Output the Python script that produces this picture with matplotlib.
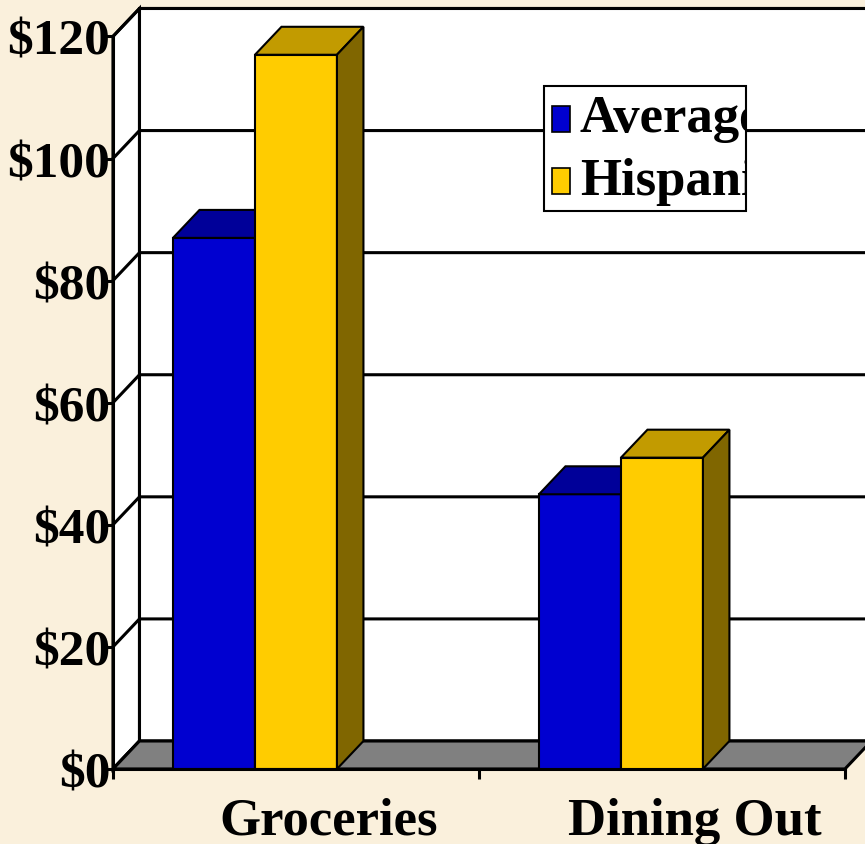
import matplotlib
matplotlib.use("Agg")
import matplotlib.pyplot as plt
from matplotlib.patches import Polygon, Rectangle
from matplotlib.transforms import Bbox, TransformedBbox
from matplotlib.ticker import FuncFormatter

categories = ["Groceries", "Dining Out"]
series = ["Average", "Hispanic"]
average = [87, 45]
hispanic = [117, 51]
values = [average, hispanic]
yticks = [0, 20, 40, 60, 80, 100, 120]

front_colors = ["#0000d0", "#ffcc00"]
top_colors = ["#000099", "#c29b00"]
side_colors = ["#00006b", "#806600"]
bg = "#faf0dc"

plt.rcParams["font.family"] = ["Liberation Serif", "DejaVu Serif"]
plt.rcParams["font.weight"] = "bold"

fig = plt.figure(figsize=(8.65, 8.45), dpi=100, facecolor=bg)
ax = fig.add_axes([0.1306, 0.0888, 0.8462, 0.8669])
ax.set_facecolor("none")
ax.set_xlim(0, 2)
ax.set_ylim(0, 120)

# depth offset of the 3d box, in data units
ddx = 0.0724
ddy = 4.58
ymax = yticks[-1]
far = 2.3
lw = 2.2

# side wall and back wall
ax.add_patch(Polygon([(0, 0), (ddx, ddy), (ddx, ymax + ddy), (0, ymax)],
                     closed=True, fc="white", ec="black", lw=lw, zorder=0.5, clip_on=False))
ax.add_patch(Polygon([(ddx, ddy), (far, ddy), (far, ymax + ddy), (ddx, ymax + ddy)],
                     closed=True, fc="white", ec="black", lw=lw, zorder=0.5, clip_on=False))
for t in yticks:
    ax.plot([0, ddx, far], [t, t + ddy, t + ddy], color="black", lw=lw,
            zorder=0.6, clip_on=False)

# floor
ax.add_patch(Polygon([(0, 0), (2, 0), (2 + ddx, ddy), (ddx, ddy)],
                     closed=True, fc="#808080", ec="black", lw=lw, zorder=0.7, clip_on=False))

# bars
bar_w = 0.224
start = 0.164
for j in range(len(categories)):
    for i in range(len(series)):
        v = values[i][j]
        x0 = j + start + i * bar_w
        z = 2 + j * 2 + i * 0.5
        ax.bar(x0, v, width=bar_w, align="edge", color=front_colors[i],
               edgecolor="black", lw=1.5, zorder=z)
        ax.add_patch(Polygon([(x0, v), (x0 + bar_w, v), (x0 + bar_w + ddx, v + ddy),
                              (x0 + ddx, v + ddy)], closed=True, fc=top_colors[i],
                             ec="black", lw=1.5, zorder=z, clip_on=False))
        ax.add_patch(Polygon([(x0 + bar_w, 0), (x0 + bar_w + ddx, ddy),
                              (x0 + bar_w + ddx, v + ddy), (x0 + bar_w, v)], closed=True,
                             fc=side_colors[i], ec="black", lw=1.5, zorder=z, clip_on=False))

for s in ["top", "right"]:
    ax.spines[s].set_visible(False)
ax.spines["left"].set_linewidth(lw)
ax.spines["bottom"].set_linewidth(lw)

ax.set_yticks(yticks)
ax.yaxis.set_major_formatter(FuncFormatter(lambda v, p: "$%d" % v))
ax.tick_params(axis="y", length=6, width=lw, pad=-4, labelsize=37)

ax.set_xticks([j + 0.59 for j in range(len(categories))])
ax.set_xticklabels(categories)
ax.set_xticks([0, 1, 2], minor=True)
ax.tick_params(axis="x", which="major", length=0, pad=20, labelsize=38)
ax.tick_params(axis="x", which="minor", length=7, width=lw)

# legend, clipped by its box like the original
lx0, ly0, lx1, ly1 = 0.629, 0.749, 0.862, 0.897
fig.add_artist(Rectangle((lx0, ly0), lx1 - lx0, ly1 - ly0, transform=fig.transFigure,
                         fc="white", ec="black", lw=1.5, zorder=5))
clip = TransformedBbox(Bbox([[lx0, ly0], [lx1, ly1]]), fig.transFigure)
marker_y = [0.8426, 0.7692]
text_y = [0.8438, 0.7692]
for i, name in enumerate(series):
    fig.add_artist(Rectangle((0.638, marker_y[i]), 0.021, 0.031, transform=fig.transFigure,
                             fc=front_colors[i], ec="black", lw=1.2, zorder=6))
    t = fig.text(0.6705, text_y[i], name, fontsize=38, fontweight="bold",
                 va="baseline", ha="left", zorder=6)
    t.set_clip_box(clip)
    t.set_clip_on(True)

plt.savefig("out.png", dpi=100, facecolor=bg)
